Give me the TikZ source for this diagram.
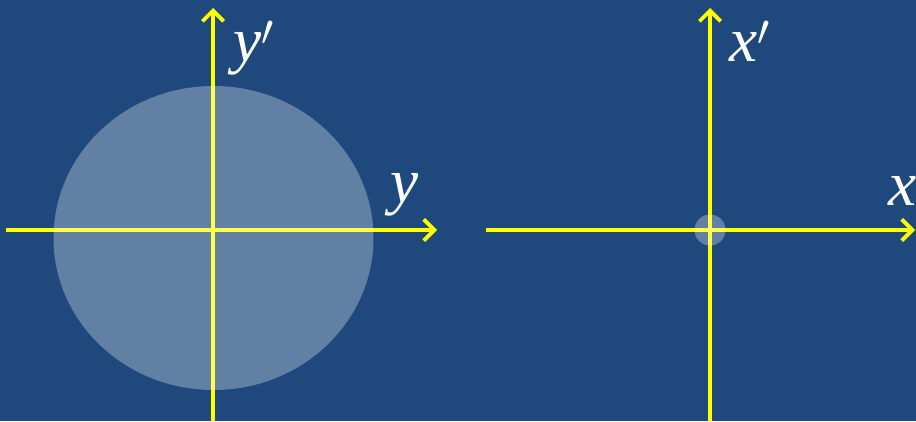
\documentclass[tikz,border=0pt]{standalone}
\usepackage{fontspec}
\setmainfont{Liberation Serif}
\usetikzlibrary{arrows.meta}
\definecolor{bgblue}{HTML}{1F497D}
\definecolor{axisyellow}{HTML}{FFFF00}
\tikzset{
    axis/.style={axisyellow, line width=2.2pt, -{Straight Barb[length=6pt, width=12pt, line width=2.2pt]}},
    lbl/.style={text=white, font=\fontsize{36}{38}\selectfont\itshape, inner sep=0pt},
    blob/.style={fill=white, fill opacity=0.3}
}
\begin{document}
\begin{tikzpicture}
    \fill[bgblue] (0,0) rectangle (18.32,8.42);
    \useasboundingbox (0,0) rectangle (18.32,8.42);

    \begin{scope}
        \coordinate (ly0) at (4.26,0);
        \coordinate (ly1) at (4.26,8.26);
        \coordinate (lx0) at (0.12,3.82);
        \coordinate (lx1) at (8.74,3.82);
        \draw[axis] (ly0) -- (ly1);
        \draw[axis] (lx0) -- (lx1);
        \fill[blob] (4.27,3.66) ellipse (3.2 and 3.04);
        \node[lbl] (yp) at (5.08,7.46) {y$'$};
        \node[lbl] (yy) at (8.1,4.52) {y};
    \end{scope}

    \begin{scope}[shift={(14.2,0)}]
        \coordinate (rx0) at (0,0);
        \coordinate (rx1) at (0,8.26);
        \coordinate (rh0) at (-4.48,3.82);
        \coordinate (rh1) at (4.1,3.82);
        \draw[axis] (rx0) -- (rx1);
        \draw[axis] (rh0) -- (rh1);
        \fill[blob] (0,3.82) circle (0.31);
        \node[lbl] (xp) at (0.8,7.6) {x$'$};
        \node[lbl] (xx) at (3.86,4.6) {x};
    \end{scope}
\end{tikzpicture}
\end{document}
